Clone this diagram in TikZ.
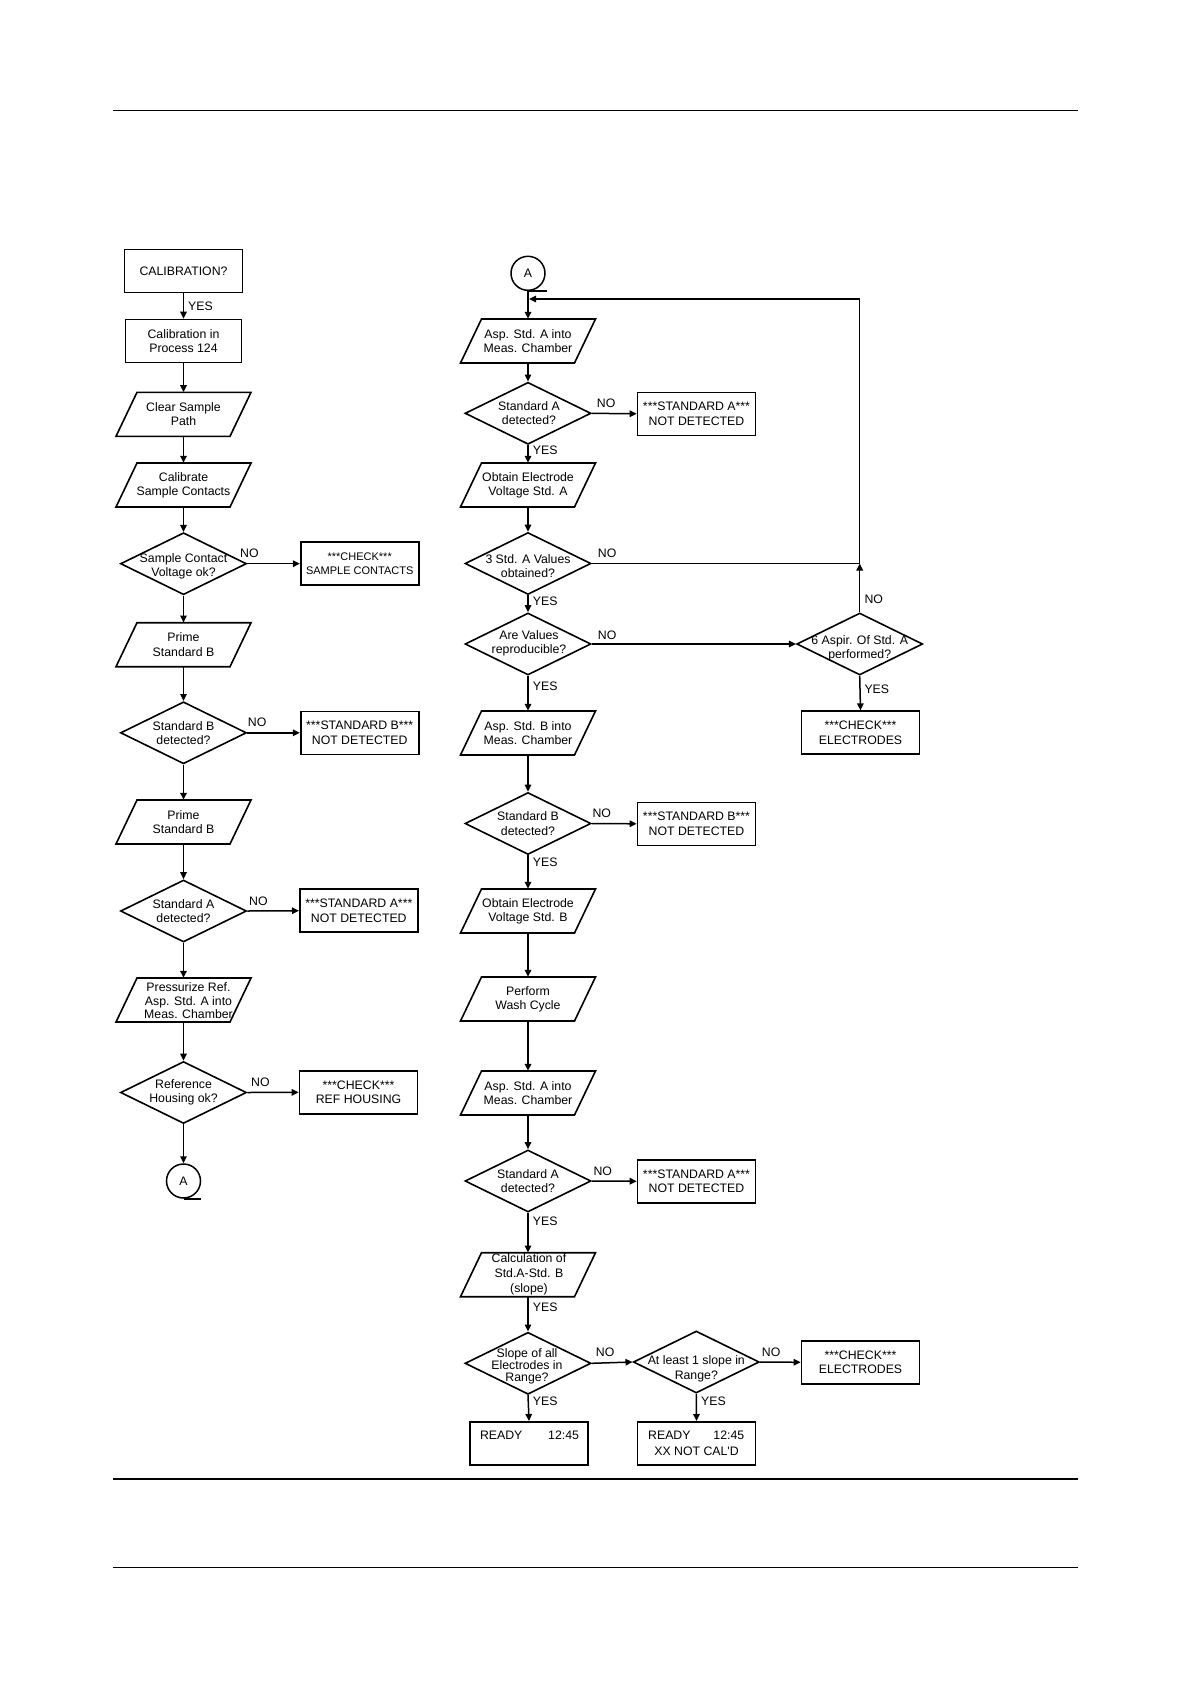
\documentclass[tikz,border=0pt]{standalone}
\usepackage{fontspec}
\setmainfont{Liberation Sans}
\usetikzlibrary{shapes.geometric,arrows.meta,calc}
\tikzset{
  fz/.style={font=\fontsize{12.3}{14.3}\selectfont},
  box/.style={draw, line width=1.6pt, minimum width=118pt, minimum height=43pt, inner sep=0pt, align=center, fz},
  pshape/.style={minimum width=114pt, minimum height=44pt, inner sep=0pt, draw=none},
  dia/.style={diamond, draw, line width=1.6pt, minimum width=126pt, minimum height=62pt, inner sep=0pt},
  txt/.style={align=center, inner sep=0pt, fz},
  lab/.style={anchor=west, inner sep=0pt, fz},
  ln/.style={line width=1.5pt, line join=miter},
  arr/.style={line width=1.5pt, -{Triangle[length=7pt,width=6.5pt]}},
  shp/.style={line width=1.6pt, line join=miter},
  conn/.style={circle, draw, line width=1.5pt, minimum size=34pt, inner sep=0pt, font=\fontsize{12.3}{14}\selectfont},
  rule/.style={line width=1.3pt}
}
\newcommand\para[4]{%
  \node[pshape] (#1) at (#2,#3) {};
  \draw[shp] ($(#1.center)+(-46.5,-22)$) -- ++(114,0) -- ++(-21,44) -- ++(-114,0) -- cycle;
  \node[txt] (#1t) at (#2,#3) {#4};
}
\begin{document}
\begin{tikzpicture}[x=1pt,y=-1pt]
\useasboundingbox (0,0) rectangle (1190,1684);
% page rules
\draw[rule] (113,110.6) -- (1078,110.6);
\draw[rule] (113,1479) -- (1078,1479);
\draw[rule] (113,1567.5) -- (1078,1567.5);

% ---------------- left column ----------------
\node[box] (calq) at (183.5,271) {CALIBRATION?};
\node[box, minimum width=116pt] (calp) at (183.5,341) {Calibration in\\Process 124};
\para{clear}{183.5}{414.3}{Clear Sample\\Path}
\para{calib}{183.5}{485}{Calibrate\\Sample Contacts}
\node[dia] (d1) at (183.5,563.7) {};
\node[txt] (d1t) at (183.5,566) {Sample Contact\\Voltage ok?};
\node[box, font=\fontsize{11}{13.3}\selectfont] (chk1) at (359.7,563.7) {***CHECK***\\SAMPLE CONTACTS};
\para{prime1}{183.5}{644.7}{Prime\\Standard B}
\node[dia] (d2) at (183.5,732.8) {};
\node[txt] (d2t) at (183.5,732.8) {Standard B\\detected?};
\node[box] (sb1) at (359.7,732.8) {***STANDARD B***\\NOT DETECTED};
\para{prime2}{183.5}{822}{Prime\\Standard B}
\node[dia] (d3) at (183.5,911) {};
\node[txt] (d3t) at (183.5,911) {Standard A\\detected?};
\node[box] (sa1) at (358.8,910.7) {***STANDARD A***\\NOT DETECTED};
\para{press}{183.5}{1000}{}
\node[txt, font=\fontsize{12.3}{13.3}\selectfont] (presst) at (188.5,1000.7) {Pressurize Ref.\\Asp. Std. A into\\Meas. Chamber};
\node[dia] (d4) at (183.5,1092.5) {};
\node[txt] (d4t) at (183.5,1092.5) {Reference\\Housing ok?};
\node[box] (refh) at (358.5,1092.3) {***CHECK***\\REF HOUSING};
\node[conn] (A1) at (183.5,1181) {A};
\draw[ln] (A1.south) -- ++(17.5,0);

\draw[arr] (calq.south) -- (calp.north);
\draw[arr] (calp.south) -- (clear.north);
\draw[arr] (clear.south) -- (calib.north);
\draw[arr] (calib.south) -- (d1.north);
\draw[arr] (d1.south) -- (prime1.north);
\draw[arr] (prime1.south) -- (d2.north);
\draw[arr] (d2.south) -- (prime2.north);
\draw[arr] (prime2.south) -- (d3.north);
\draw[arr] (d3.south) -- (press.north);
\draw[arr] (press.south) -- (d4.north);
\draw[arr] (d4.south) -- (A1.north);
\draw[arr] (d1.east) -- (chk1.west);
\draw[arr] (d2.east) -- (sb1.west);
\draw[arr] (d3.east) -- (sa1.west);
\draw[arr] (d4.east) -- (refh.west);

\node[lab] (ly1) at (188,306.7) {YES};
\node[lab] (ln1) at (240,553.3) {NO};
\node[lab] (ln2) at (247.7,722.7) {NO};
\node[lab] (ln3) at (249,901) {NO};
\node[lab] (ln4) at (251,1082.3) {NO};

% ---------------- middle column ----------------
\node[conn] (A2) at (528,273.3) {A};
\draw[ln] (A2.south) -- ++(18.5,0);
\para{aspA}{528}{341}{Asp. Std. A into\\Meas. Chamber}
\node[dia] (d5) at (528,413.3) {};
\node[txt] (d5t) at (529,413) {Standard A\\detected?};
\node[box] (sa2) at (696.5,413.8) {***STANDARD A***\\NOT DETECTED};
\para{obtA}{528}{485}{Obtain Electrode\\Voltage Std. A}
\node[dia] (d6) at (528,563.5) {};
\node[txt] (d6t) at (528,566) {3 Std. A Values\\obtained?};
\node[dia] (d7) at (528,644) {};
\node[txt] (d7t) at (529,643.3) {Are Values\\reproducible?};
\node[dia] (d8) at (859.7,644) {};
\node[txt] (d8t) at (859.7,648) {6 Aspir. Of Std. A\\performed?};
\node[box] (elec1) at (860.5,732.7) {***CHECK***\\ELECTRODES};
\para{aspB}{528}{733}{Asp. Std. B into\\Meas. Chamber}
\node[dia] (d9) at (528,823.5) {};
\node[txt] (d9t) at (528,823.5) {Standard B\\detected?};
\node[box] (sb2) at (696.5,823.8) {***STANDARD B***\\NOT DETECTED};
\para{obtB}{528}{911}{Obtain Electrode\\Voltage Std. B}
\para{wash}{528}{999}{Perform\\Wash Cycle}
\para{aspA2}{528}{1093}{Asp. Std. A into\\Meas. Chamber}
\node[dia] (d10) at (528,1181) {};
\node[txt] (d10t) at (528,1181) {Standard A\\detected?};
\node[box] (sa3) at (696.5,1181.2) {***STANDARD A***\\NOT DETECTED};
\para{calc}{528}{1274.7}{}
\node[txt, font=\fontsize{12.3}{15}\selectfont] (calct) at (529,1274.3) {Calculation of\\Std.A-Std. B\\(slope)};
\node[dia] (d11) at (528,1363.3) {};
\node[txt, font=\fontsize{12.3}{12.3}\selectfont] (d11t) at (527,1366.5) {Slope of all\\Electrodes in\\Range?};
\node[dia] (d12) at (696.3,1362) {};
\node[txt] (d12t) at (696.3,1368.8) {At least 1 slope in\\Range?};
\node[box] (elec2) at (860.5,1362.3) {***CHECK***\\ELECTRODES};
\node[box] (rdy1) at (529,1443.3) {};
\node[fz, inner sep=0pt, text width=99pt] (rdy1t) at (529.5,1435) {READY\hfill 12:45};
\node[box] (rdy2) at (696.5,1443.3) {};
\node[fz, inner sep=0pt, text width=96pt] (rdy2a) at (696.2,1435) {READY\hfill 12:45};
\node[txt] (rdy2b) at (696.5,1451) {XX NOT CAL\textquotesingle D};

\coordinate (c1) at (859.7,563.5);
\coordinate (c2) at (859.7,299);
\coordinate (c3) at (529,299);

\draw[arr] (A2.south) -- (aspA.north);
\draw[ln] (d6.east) -- (c1) -- (c2);
\draw[arr] (c2) -- (c3);
\draw[arr] (aspA.south) -- (d5.north);
\draw[arr] (d5.east) -- (sa2.west);
\draw[arr] (d5.south) -- (obtA.north);
\draw[arr] (obtA.south) -- (d6.north);
\draw[arr] (d6.south) -- (d7.north);
\draw[arr] (d7.east) -- (d8.west);
\draw[arr] (d8.north) -- (c1);
\draw[arr] (d8.south) -- (elec1.north);
\draw[arr] (d7.south) -- (aspB.north);
\draw[arr] (aspB.south) -- (d9.north);
\draw[arr] (d9.east) -- (sb2.west);
\draw[arr] (d9.south) -- (obtB.north);
\draw[arr] (obtB.south) -- (wash.north);
\draw[arr] (wash.south) -- (aspA2.north);
\draw[arr] (aspA2.south) -- (d10.north);
\draw[arr] (d10.east) -- (sa3.west);
\draw[arr] (d10.south) -- (calc.north);
\draw[arr] (calc.south) -- (d11.north);
\draw[arr] (d11.east) -- (d12.west);
\draw[arr] (d12.east) -- (elec2.west);
\draw[arr] (d11.south) -- (rdy1.north);
\draw[arr] (d12.south) -- (rdy2.north);

\node[lab] (ln5) at (596.7,403.7) {NO};
\node[lab] (ly5) at (532.7,450) {YES};
\node[lab] (ln6) at (597.7,553.3) {NO};
\node[lab] (ly6) at (532.7,601.7) {YES};
\node[lab] (ln7) at (597.7,635) {NO};
\node[lab] (ln8) at (864.3,599) {NO};
\node[lab] (ly7) at (532.7,686.7) {YES};
\node[lab] (ly8) at (864.3,689.3) {YES};
\node[lab] (ln9) at (592.3,813.7) {NO};
\node[lab] (ly9) at (532.7,862.7) {YES};
\node[lab] (ln10) at (593.3,1171) {NO};
\node[lab] (ly10) at (532.7,1221.7) {YES};
\node[lab] (ly11) at (532.7,1307.7) {YES};
\node[lab] (ln11) at (595.7,1352.7) {NO};
\node[lab] (ln12) at (761.7,1352.7) {NO};
\node[lab] (ly12) at (532.7,1401.7) {YES};
\node[lab] (ly13) at (701,1401.7) {YES};
\end{tikzpicture}
\end{document}
